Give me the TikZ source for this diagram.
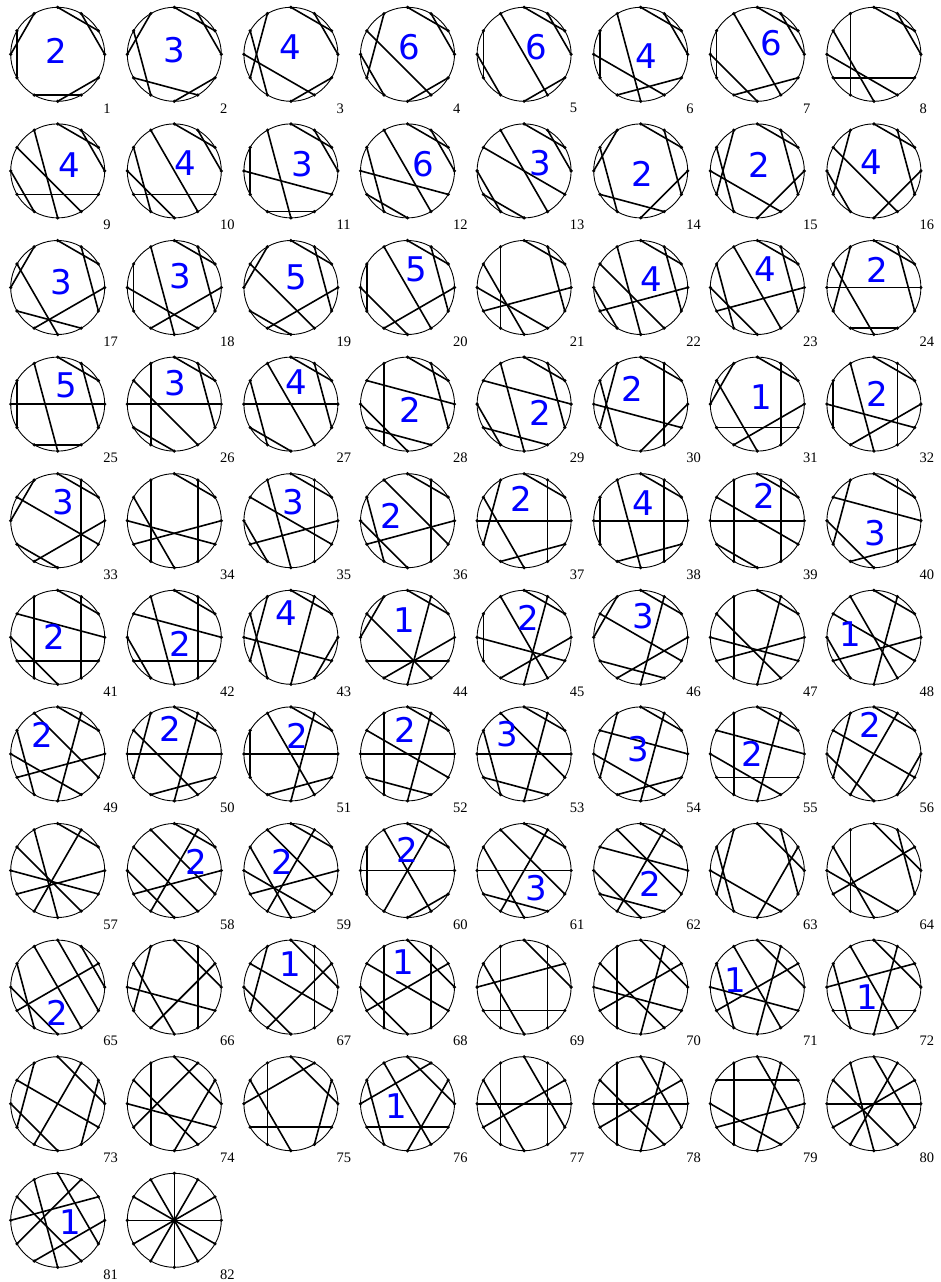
\documentclass[tikz,border=0pt]{standalone}
\usepackage{fontspec}
\newfontfamily\tagfont{Liberation Serif}
\newfontfamily\countfont{DejaVu Sans}

\begin{document}
\begin{tikzpicture}[
        x=1pt, y=-1pt,
        rim/.style={line width=0.9pt},
        chord/.style={line width=1.6pt},
        dot/.style={fill=black},
        tag/.style={font=\tagfont\fontsize{14.5}{16}\selectfont, anchor=west, inner sep=0pt},
        count/.style={font=\countfont\fontsize{34}{38}\selectfont, text=blue, inner sep=0pt}
      ]
        \useasboundingbox (0,0) rectangle (940,1282);

        % Each diagram: number / chords between its 12 points (0 = east, counter-clockwise)
        \foreach \n/\pairs in {
          1/{3/1,2/0,4/6,5/7,8/10,9/11},
          2/{3/1,2/0,4/6,5/8,7/10,9/11},
          3/{3/1,2/0,4/7,5/8,6/10,9/11},
          4/{3/1,2/0,4/7,5/10,6/8,9/11},
          5/{3/1,2/0,4/10,5/7,6/8,9/11},
          6/{3/1,2/0,4/9,5/7,6/10,8/11},
          7/{3/1,2/0,4/10,5/7,6/9,8/11},
          8/{3/1,2/0,4/8,5/9,6/10,7/11},
          9/{3/1,2/0,4/9,5/10,6/8,7/11},
          10/{3/1,2/0,4/10,5/8,6/9,7/11},
          11/{3/1,2/0,4/9,5/7,6/11,8/10},
          12/{3/1,2/0,4/10,5/8,6/11,7/9},
          13/{3/1,2/0,4/10,5/11,6/8,7/9},
          14/{3/1,4/6,5/8,7/10,2/11,0/9},
          15/{3/1,4/7,5/8,6/10,2/11,0/9},
          16/{3/1,4/7,5/10,6/8,2/11,0/9},
          17/{3/1,4/6,5/9,7/10,2/11,0/8},
          18/{3/1,4/9,5/7,6/10,2/11,0/8},
          19/{3/1,4/6,5/10,7/9,2/11,0/8},
          20/{3/1,4/10,5/7,6/9,2/11,0/8},
          21/{3/1,4/8,5/9,6/10,7/0,2/11},
          22/{3/1,4/9,5/10,6/8,7/0,2/11},
          23/{3/1,4/10,5/8,6/9,7/0,2/11},
          24/{3/1,4/7,5/9,6/0,8/10,2/11},
          25/{3/1,4/9,5/7,6/0,8/10,2/11},
          26/{3/1,4/8,5/10,6/0,7/9,2/11},
          27/{3/1,4/10,5/8,6/0,7/9,2/11},
          28/{3/1,4/8,5/0,6/9,7/10,2/11},
          29/{3/1,4/9,5/0,6/8,7/10,2/11},
          30/{3/1,4/7,5/8,6/11,2/10,0/9},
          31/{3/1,4/6,5/9,7/11,2/10,0/8},
          32/{3/1,4/9,5/7,6/11,2/10,0/8},
          33/{3/1,4/6,5/11,7/9,2/10,0/8},
          34/{3/1,4/8,5/9,6/11,7/0,2/10},
          35/{3/1,4/9,5/11,6/8,7/0,2/10},
          36/{3/1,4/11,5/8,6/9,7/0,2/10},
          37/{3/1,4/7,5/9,6/0,8/11,2/10},
          38/{3/1,4/9,5/7,6/0,8/11,2/10},
          39/{3/1,4/8,5/11,6/0,7/9,2/10},
          40/{3/1,4/7,5/0,6/9,8/11,2/10},
          41/{3/1,4/8,5/0,6/9,7/11,2/10},
          42/{3/1,4/9,5/0,6/8,7/11,2/10},
          43/{3/1,4/7,5/8,6/11,2/9,0/10},
          44/{3/1,4/6,5/10,7/11,2/9,0/8},
          45/{3/1,4/10,5/7,6/11,2/9,0/8},
          46/{3/1,4/6,5/11,7/10,2/9,0/8},
          47/{3/1,4/8,5/10,6/11,2/9,0/7},
          48/{3/1,4/10,5/11,6/8,2/9,0/7},
          49/{3/1,4/11,5/8,6/10,7/0,2/9},
          50/{3/1,4/7,5/10,6/0,8/11,2/9},
          51/{3/1,4/10,5/7,6/0,8/11,2/9},
          52/{3/1,4/8,5/11,6/0,7/10,2/9},
          53/{3/1,4/11,5/8,6/0,7/10,2/9},
          54/{3/1,4/7,5/0,6/10,8/11,2/9},
          55/{3/1,4/8,5/0,6/10,7/11,2/9},
          56/{3/1,2/8,4/7,5/11,6/9,0/10},
          57/{3/1,4/9,5/10,6/11,7/0,2/8},
          58/{3/1,4/11,5/10,6/9,7/0,2/8},
          59/{3/1,4/11,5/9,6/10,7/0,2/8},
          60/{3/1,4/10,2/8,6/0,5/7,9/11},
          61/{3/1,4/11,5/9,6/0,7/10,2/8},
          62/{3/1,4/11,5/0,6/9,7/10,2/8},
          63/{3/0,4/7,5/8,6/10,2/11,1/9},
          64/{4/8,3/0,5/9,6/10,7/1,2/11},
          65/{3/11,4/10,5/8,6/9,7/1,2/0},
          66/{3/0,4/7,5/9,6/11,8/1,2/10},
          67/{3/0,4/7,5/11,6/9,8/1,2/10},
          68/{3/0,4/8,5/11,6/9,7/1,2/10},
          69/{3/0,4/8,5/9,6/1,7/11,2/10},
          70/{4/8,5/10,6/11,7/1,2/9,3/0},
          71/{3/0,4/10,5/8,6/11,7/1,2/9},
          72/{3/0,4/10,5/8,6/1,7/11,2/9},
          73/{3/0,4/7,5/11,6/9,8/2,1/10},
          74/{3/0,4/8,5/10,6/11,7/2,1/9},
          75/{3/0,4/8,5/9,6/2,7/11,1/10},
          76/{3/0,4/10,5/8,6/2,7/11,1/9},
          77/{4/8,5/9,6/0,7/1,2/10,3/11},
          78/{4/8,5/10,6/0,7/1,2/9,3/11},
          79/{5/1,4/8,6/10,7/0,2/9,3/11},
          80/{4/9,5/10,6/0,7/1,2/8,3/11},
          81/{4/9,5/10,6/1,7/2,8/0,3/11},
          82/{0/6,1/7,2/8,3/9,4/10,5/11}}{
          \pgfmathtruncatemacro\col{mod(\n-1,8)}
          \pgfmathtruncatemacro\row{div(\n-1,8)}
          \coordinate (c\n) at (57.7+116.6*\col, 54.3+116.6*\row);
          \foreach \k in {0,...,11}
            \coordinate (d\n-\k) at ([shift={(30*\k:47pt)}]c\n);
          \draw[rim] (c\n) circle (47pt);
          \foreach \a/\b in \pairs
            \draw[chord] (d\n-\a) -- (d\n-\b);
          \foreach \k in {0,...,11}
            \fill[dot] (d\n-\k) circle (1.8pt);
          \node[tag] (t\n) at ([shift={(45.5,54)}]c\n) {\n};
        }

        % Blue counts: number / value / offset from the centre
        \foreach \n/\v/\dx/\dy in {
          1/2/-1/-3, 2/3/0/-4, 3/4/-1/-7, 4/6/2/-7, 5/6/12/-7, 6/4/6/2, 7/6/14/-11,
          9/4/12/-6, 10/4/11/-8, 11/3/11/-7, 12/6/16/-7, 13/3/16/-8, 14/2/2/3,
          15/2/2/-6, 16/4/-3/-9, 17/3/4/-5, 18/3/6/-11, 19/5/5/-10, 20/5/9/-18,
          22/4/11/-8, 23/4/8/-18, 24/2/3/-18, 25/5/9/-19, 26/3/1/-21, 27/4/5/-22,
          28/2/3/6, 29/2/16/9, 30/2/-8/-15, 31/1/4/-7, 32/2/3/-10, 33/3/6/-19,
          35/3/2/-19, 36/2/-16/-5, 37/2/-3/-22, 38/4/3/-18, 39/2/7/-25, 40/3/1/12,
          41/2/-3/0, 42/2/6/7, 43/4/-5/-24, 44/1/-3/-17, 45/2/4/-19, 46/3/3/-21,
          48/1/-24/-3, 49/2/-15/-19, 50/2/-4/-25, 51/2/6/-18, 52/2/-2/-24,
          53/3/-17/-20, 54/3/-2/-5, 55/2/-5/0, 56/2/-4/-29, 58/2/22/-9, 59/2/-9/-9,
          60/2/0/-21, 61/3/12/18, 62/2/10/13, 65/2/0/26, 67/1/-1/-23, 68/1/-4/-25,
          71/1/-22/-7, 72/1/-7/10, 76/1/-11/2, 81/1/13/2}
          \node[count] (k\n) at ([shift={(\dx,\dy)}]c\n) {\v};
      \end{tikzpicture}
\end{document}
